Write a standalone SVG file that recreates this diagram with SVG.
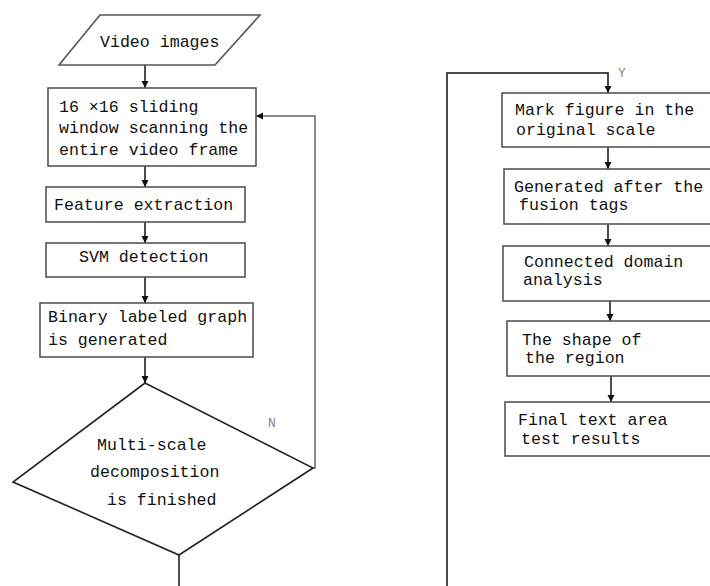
<svg xmlns="http://www.w3.org/2000/svg" width="710" height="586" viewBox="0 0 710 586">
<style>
.box{fill:#fff;stroke:#555;stroke-width:1.6}
.ln{fill:none;stroke:#111;stroke-width:1.5}
.t{font-family:"Liberation Mono",monospace;font-size:16.6px;fill:#111}
.lbl{font-family:"Liberation Mono",monospace;font-size:13px;fill:#888}
</style>
<defs>
<marker id="ah" markerWidth="8" markerHeight="8" refX="7" refY="4" orient="auto" markerUnits="userSpaceOnUse">
<path d="M0,0.5 L7,4 L0,7.5 Z" fill="#111"/>
</marker>
</defs>
<rect width="710" height="586" fill="#fff"/>
<g id="connectors">
<line class="ln" x1="145" y1="65" x2="145" y2="88" marker-end="url(#ah)"/>
<line class="ln" x1="145" y1="166" x2="145" y2="187" marker-end="url(#ah)"/>
<line class="ln" x1="145" y1="222" x2="145" y2="243" marker-end="url(#ah)"/>
<line class="ln" x1="145" y1="277" x2="145" y2="303" marker-end="url(#ah)"/>
<line class="ln" x1="145" y1="357" x2="145" y2="383" marker-end="url(#ah)"/>
<polyline class="ln" points="313,468 315,468 315,116 256,116" marker-end="url(#ah)" style="stroke:#666"/>
<line class="ln" x1="179" y1="555" x2="179" y2="586"/>
<polyline class="ln" points="447,586 447,73 608,73 608,93" marker-end="url(#ah)"/>
<line class="ln" x1="608" y1="147" x2="608" y2="169" marker-end="url(#ah)"/>
<line class="ln" x1="608" y1="224" x2="608" y2="246" marker-end="url(#ah)"/>
<line class="ln" x1="610" y1="301" x2="610" y2="321" marker-end="url(#ah)"/>
<line class="ln" x1="611" y1="376" x2="611" y2="402" marker-end="url(#ah)"/>
<text class="lbl" x="268" y="427">N</text>
<text class="lbl" x="618" y="77">Y</text>
</g>
<g id="video-images">
<polygon class="box" points="100,15 260,15 215,65 59,65"/>
<text class="t" x="100" y="47">Video images</text>
</g>
<g id="sliding-window">
<rect class="box" x="48" y="88" width="208" height="78"/>
<text class="t" x="59" y="112">16 ×16 sliding</text>
<text class="t" x="59" y="133">window scanning the</text>
<text class="t" x="59" y="155">entire video frame</text>
</g>
<g id="feature-extraction">
<rect class="box" x="46" y="187" width="199" height="35"/>
<text class="t" x="54" y="210">Feature extraction</text>
</g>
<g id="svm-detection">
<rect class="box" x="46" y="243" width="199" height="34"/>
<text class="t" x="79" y="262">SVM detection</text>
</g>
<g id="binary-graph">
<rect class="box" x="40" y="303" width="213" height="54"/>
<text class="t" x="48" y="322">Binary labeled graph</text>
<text class="t" x="48" y="345">is generated</text>
</g>
<g id="decision">
<polygon class="box" points="145,383 313,468 179,555 13,482" style="stroke:#222"/>
<text class="t" x="97" y="450">Multi-scale</text>
<text class="t" x="90" y="477">decomposition</text>
<text class="t" x="107" y="505"> is finished</text>
</g>
<g id="mark-figure">
<rect class="box" x="502" y="93" width="212" height="54"/>
<text class="t" x="515" y="115">Mark figure in the</text>
<text class="t" x="516" y="135">original scale</text>
</g>
<g id="fusion-tags">
<rect class="box" x="504" y="169" width="210" height="55"/>
<text class="t" x="514" y="192">Generated after the</text>
<text class="t" x="519" y="210">fusion tags</text>
</g>
<g id="connected-domain">
<rect class="box" x="503" y="246" width="211" height="55"/>
<text class="t" x="524" y="267">Connected domain</text>
<text class="t" x="523" y="285">analysis</text>
</g>
<g id="region-shape">
<rect class="box" x="507" y="321" width="207" height="55"/>
<text class="t" x="522" y="345">The shape of</text>
<text class="t" x="525" y="363">the region</text>
</g>
<g id="final-results">
<rect class="box" x="505" y="402" width="209" height="54"/>
<text class="t" x="518" y="425">Final text area</text>
<text class="t" x="521" y="444">test results</text>
</g>
</svg>
